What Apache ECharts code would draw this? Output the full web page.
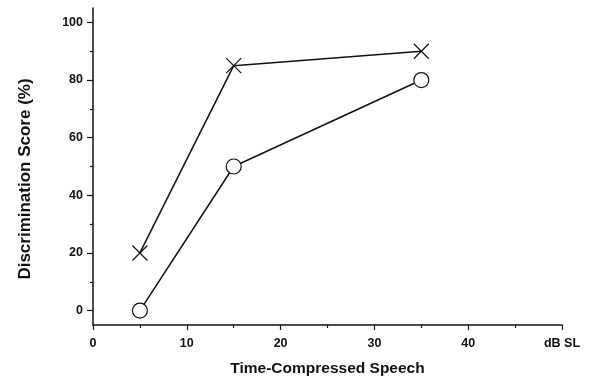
<!DOCTYPE html>
<html>
<head>
<meta charset="utf-8">
<script src="https://cdn.jsdelivr.net/npm/echarts@6/dist/echarts.min.js"></script>
<style>
  html, body { margin: 0; padding: 0; background: #fff; }
  #chart { width: 597px; height: 379px; }
</style>
</head>
<body>
<div id="chart"></div>
<script>
// dB SL levels
const levels = [5, 15, 35];
// discrimination scores (%)
const crossScores = [20, 85, 90];
const circleScores = [0, 50, 80];
const yMajorTicks = [0, 20, 40, 60, 80, 100];
const yMinorTicks = [10, 30, 50, 70, 90];

const toPoints = (xs, ys) => xs.map((x, i) => [x, ys[i]]);

const myChart = echarts.init(document.getElementById('chart'));
const font = 'Liberation Sans, Arial, sans-serif';
const ink = '#111';

const option = {
  animation: false,
  grid: { left: 93, right: 35, top: 8, bottom: 54, outerBoundsMode: 'none' },
  xAxis: {
    type: 'value',
    min: 0,
    max: 50,
    interval: 10,
    name: 'Time-Compressed Speech',
    nameLocation: 'middle',
    nameGap: 36,
    nameTextStyle: { fontFamily: font, fontWeight: 'bold', fontSize: 15.5, color: ink },
    axisLine: { onZero: false, lineStyle: { color: ink, width: 1.5 } },
    axisTick: { length: 5, lineStyle: { color: ink, width: 1.2 } },
    minorTick: { show: true, splitNumber: 2, length: 3, lineStyle: { color: ink, width: 1.2 } },
    splitLine: { show: false },
    axisLabel: {
      margin: 12,
      fontFamily: font, fontWeight: 'bold', fontSize: 12.5, color: ink,
      formatter: v => (v === 50 ? 'dB SL' : String(v))
    }
  },
  yAxis: [
    {
      type: 'value',
      min: -5,
      max: 105,
      name: 'Discrimination Score (%)',
      nameLocation: 'middle',
      nameGap: 59,
      nameTextStyle: { fontFamily: font, fontWeight: 'bold', fontSize: 17, color: ink, padding: [0, 25, 0, 0] },
      axisLine: { show: true, onZero: false, lineStyle: { color: ink, width: 1.5 } },
      axisTick: { show: true, length: 6, customValues: yMajorTicks, lineStyle: { color: ink, width: 1.2 } },
      splitLine: { show: false },
      axisLabel: {
        margin: 10, customValues: yMajorTicks,
        fontFamily: font, fontWeight: 'bold', fontSize: 12.5, color: ink
      }
    },
    {
      type: 'value',
      min: -5,
      max: 105,
      position: 'left',
      axisLine: { show: false, onZero: false },
      axisTick: { show: true, length: 3, customValues: yMinorTicks, lineStyle: { color: ink, width: 1.2 } },
      axisLabel: { show: false },
      splitLine: { show: false }
    }
  ],
  series: [
    {
      name: 'cross',
      type: 'line',
      data: toPoints(levels, crossScores),
      symbol: 'path://M0,0L10,10M10,0L0,10',
      symbolSize: 15,
      lineStyle: { color: ink, width: 1.5 },
      itemStyle: { color: 'none', borderColor: ink, borderWidth: 1.2 },
      z: 3
    },
    {
      name: 'circle',
      type: 'line',
      data: toPoints(levels, circleScores),
      symbol: 'circle',
      symbolSize: 15,
      showAllSymbol: true,
      lineStyle: { color: ink, width: 1.5 },
      itemStyle: { color: '#fff', borderColor: ink, borderWidth: 1.2 },
      z: 3
    }
  ]
};

myChart.setOption(option);
</script>
</body>
</html>
